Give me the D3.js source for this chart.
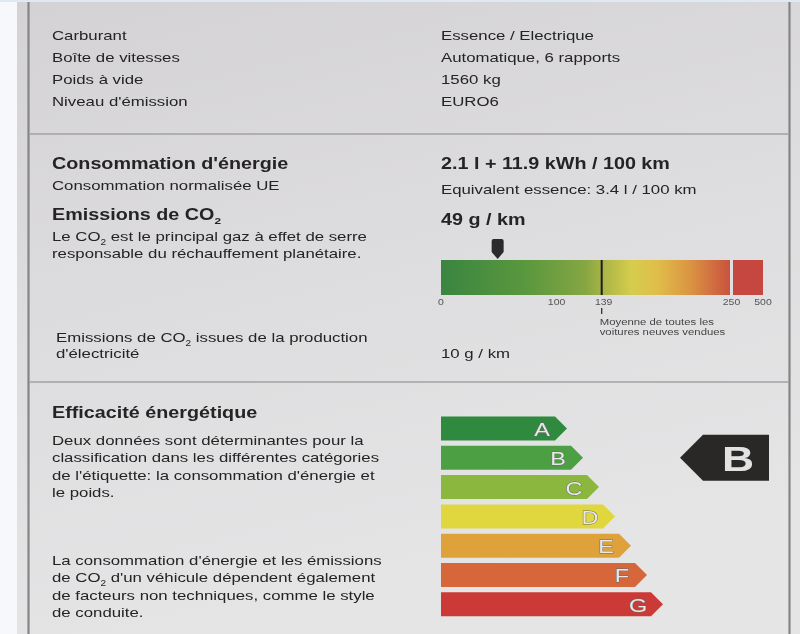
<!DOCTYPE html>
<html><head><meta charset="utf-8">
<script src="https://cdn.jsdelivr.net/npm/d3@7"></script>
<style>html,body{margin:0;padding:0;background:#f6f8fc;}svg{display:block;font-family:"Liberation Sans",Arial,sans-serif;filter:blur(0.35px);}</style>
</head><body>
<script>
// ---------- data ----------
const infoLabels = ["Carburant", "Boîte de vitesses", "Poids à vide", "Niveau d'émission"];
const infoValues = ["Essence / Electrique", "Automatique, 6 rapports", "1560 kg", "EURO6"];
const consumptionValue = "2.1 l + 11.9 kWh / 100 km";
const equivalentValue = "Equivalent essence: 3.4 l / 100 km";
const co2Value = 49;            // g/km
const co2ElecValue = 10;        // g/km
const avgValue = 139;           // average new cars
const scaleTicks = [0, 100, 139, 250, 500];
const scaleBreak = 250;
const scaleMax = 500;
const classes = ["A", "B", "C", "D", "E", "F", "G"];
const classColors = ["#2f8a3f", "#4d9f44", "#8bb73f", "#e0d63e", "#dfa23b", "#d5673a", "#cb3a36"];
const selectedClass = "B";
const para1 = ["Deux données sont déterminantes pour la", "classification dans les différentes catégories", "de l'étiquette: la consommation d'énergie et", "le poids."];
const para2 = [["La consommation d'énergie et les émissions"], ["de CO", {sub: "2"}, " d'un véhicule dépendent également"], ["de facteurs non techniques, comme le style"], ["de conduite."]];

// ---------- setup ----------
const W = 800, H = 634, SX = 1.235;
const ink = "#242424";
const svg = d3.select("body").append("svg").attr("width", W).attr("height", H);
const defs = svg.append("defs");

const bg = defs.append("linearGradient").attr("id", "bg").attr("x1", 0).attr("y1", 0).attr("x2", 0.3).attr("y2", 1);
[["0", "#d4d2d5"], ["0.5", "#dddcde"], ["1", "#e5e5e6"]].forEach(([o, c]) => bg.append("stop").attr("offset", o).attr("stop-color", c));

svg.append("rect").attr("x", 0).attr("y", 0).attr("width", W).attr("height", H).attr("fill", "#f6f8fc");
svg.append("rect").attr("x", 17).attr("y", 2).attr("width", W - 17).attr("height", H - 2).attr("fill", "url(#bg)");
svg.append("rect").attr("x", 0).attr("y", 0).attr("width", W).attr("height", 2).attr("fill", "#dfe9f6");

// frame
svg.append("line").attr("x1", 28.5).attr("x2", 28.5).attr("y1", 2).attr("y2", H).attr("stroke", "#858585").attr("stroke-width", 2.2);
svg.append("line").attr("x1", 789.5).attr("x2", 789.5).attr("y1", 2).attr("y2", H).attr("stroke", "#858585").attr("stroke-width", 2.2);
[134, 382].forEach(y => svg.append("line").attr("x1", 29).attr("x2", 789).attr("y1", y).attr("y2", y).attr("stroke", "#a2a2a4").attr("stroke-width", 1.5));

function label(x, y, segs, size, weight, fill, anchor) {
  const t = svg.append("text")
    .attr("transform", `translate(${x},${y}) scale(${SX},1)`)
    .attr("font-size", size).attr("font-weight", weight || "normal")
    .attr("fill", fill || ink).attr("text-anchor", anchor || "start");
  let shift = 0;
  (Array.isArray(segs) ? segs : [segs]).forEach(s => {
    if (typeof s === "string") {
      const ts = t.append("tspan").text(s);
      if (shift) { ts.attr("dy", -shift); shift = 0; }
    } else {
      shift = size * 0.28;
      t.append("tspan").attr("font-size", size * 0.6).attr("dy", shift).text(s.sub);
    }
  });
  return t;
}

// ---------- section 1 ----------
const rowY = d3.scaleLinear().domain([0, 3]).range([39.5, 105.5]);
infoLabels.forEach((d, i) => label(52, rowY(i), d, 13.6));
infoValues.forEach((d, i) => label(441, rowY(i), d, 13.6));

// ---------- section 2 ----------
label(52, 169, "Consommation d'énergie", 16, "bold");
label(52, 190, "Consommation normalisée UE", 13.6);
label(52, 220, ["Emissions de CO", {sub: "2"}], 16, "bold");
label(52, 241, ["Le CO", {sub: "2"}, " est le principal gaz à effet de serre"], 13.6);
label(52, 258, "responsable du réchauffement planétaire.", 13.6);
label(56, 342, ["Emissions de CO", {sub: "2"}, " issues de la production"], 13.6);
label(56, 358, "d'électricité", 13.6);

label(441, 169, consumptionValue, 16, "bold");
label(441, 194, equivalentValue, 13.6);
label(441, 225, `${co2Value} g / km`, 16, "bold");
label(441, 358, `${co2ElecValue} g / km`, 13.6);

// CO2 scale bar
const xMain = d3.scaleLinear().domain([0, scaleBreak]).range([441, 730]);
const xHigh = d3.scaleLinear().domain([scaleBreak, scaleMax]).range([733, 763]);
const barTop = 260, barH = 35;

const grad = defs.append("linearGradient").attr("id", "co2grad").attr("x1", 0).attr("x2", 1).attr("y1", 0).attr("y2", 0);
[[0, "#3a8540"], [0.3, "#5b983e"], [0.5, "#86a643"], [0.56, "#a9b446"], [0.66, "#d5cd4d"], [0.75, "#e0bd4a"], [0.86, "#db9542"], [1, "#c9523f"]]
  .forEach(([o, c]) => grad.append("stop").attr("offset", o).attr("stop-color", c));

svg.append("rect").attr("x", xMain(0)).attr("y", barTop).attr("width", xMain(scaleBreak) - xMain(0)).attr("height", barH).attr("fill", "url(#co2grad)");
svg.append("rect").attr("x", xHigh(scaleBreak)).attr("y", barTop).attr("width", xHigh(scaleMax) - xHigh(scaleBreak)).attr("height", barH).attr("fill", "#c5473f");

// average line
svg.append("line").attr("x1", xMain(avgValue)).attr("x2", xMain(avgValue)).attr("y1", barTop).attr("y2", barTop + barH).attr("stroke", "#1c1c1c").attr("stroke-width", 2);
svg.append("line").attr("x1", xMain(avgValue)).attr("x2", xMain(avgValue)).attr("y1", 308).attr("y2", 314).attr("stroke", "#333").attr("stroke-width", 1.3);

// tick labels
const tickX = v => v < scaleBreak ? xMain(v) : v === scaleBreak ? (xMain(v) + xHigh(v)) / 2 : xHigh(v);
scaleTicks.forEach(v => label(tickX(v) + (v === avgValue ? 2 : 0), 304.5, String(v), 8.5, "normal", "#555", "middle"));
label(xMain(avgValue) - 2, 324.5, "Moyenne de toutes les", 9.2, "normal", "#444");
label(xMain(avgValue) - 2, 335, "voitures neuves vendues", 9.2, "normal", "#444");

// marker
const mx = xMain(co2Value);
svg.append("path")
  .attr("d", `M${mx - 6},${241} Q${mx - 6},${239} ${mx - 4},${239} L${mx + 4},${239} Q${mx + 6},${239} ${mx + 6},${241} L${mx + 6},${252} L${mx},${259} L${mx - 6},${252} Z`)
  .attr("fill", "#2a2a2a");

// ---------- section 3 ----------
label(52, 418, "Efficacité énergétique", 16, "bold");
const p1Y = d3.scaleLinear().domain([0, 3]).range([445, 497]);
para1.forEach((d, i) => label(52, p1Y(i), d, 13.6));
const p2Y = d3.scaleLinear().domain([0, 3]).range([565, 617]);
para2.forEach((d, i) => label(52, p2Y(i), d, 13.6));

// energy class arrows
const yBand = d3.scaleBand().domain(classes).range([416.5, 616.3]).paddingInner(0.18);
const tipX = d3.scaleLinear().domain([0, classes.length - 1]).range([567, 663]);
const bh = yBand.bandwidth();
classes.forEach((c, i) => {
  const y0 = yBand(c), tx = tipX(i), bx = tx - bh / 2;
  svg.append("path")
    .attr("d", `M441,${y0} L${bx},${y0} L${tx},${y0 + bh / 2} L${bx},${y0 + bh} L441,${y0 + bh} Z`)
    .attr("fill", classColors[i]);
  label(tx - 25, y0 + bh / 2 + 7.5, c, 19, "normal", "#e8e8e8", "middle")
    .attr("stroke", "#6a6a6a").attr("stroke-width", 0.9).attr("paint-order", "stroke");
});

// selected class pointer
const sy = yBand(selectedClass) + bh / 2, sh = 46;
svg.append("path")
  .attr("d", `M680,${sy} L703,${sy - sh / 2} L769,${sy - sh / 2} L769,${sy + sh / 2} L703,${sy + sh / 2} Z`)
  .attr("fill", "#2a2826");
label(738, sy + 13.5, selectedClass, 36, "bold", "#e2e2e2", "middle");
</script>
</body></html>
